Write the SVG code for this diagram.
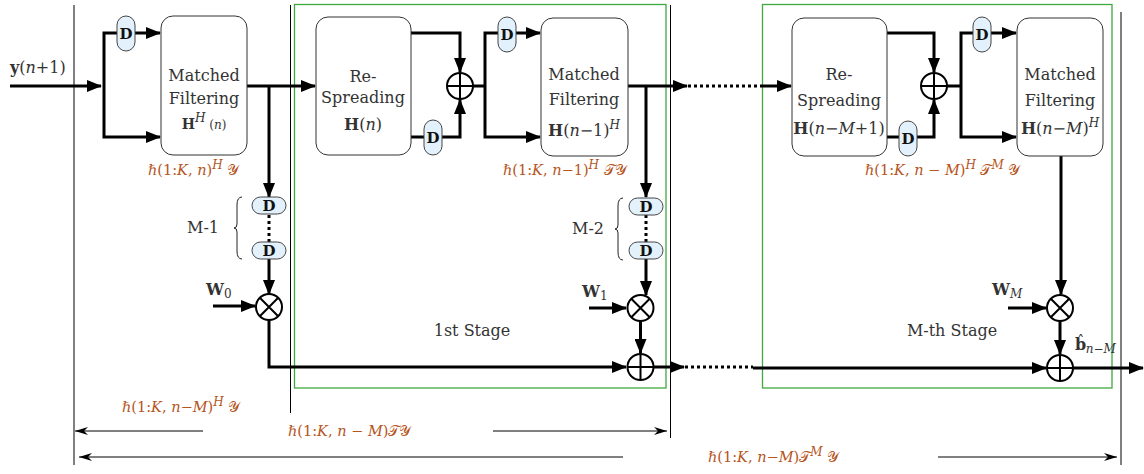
<svg xmlns="http://www.w3.org/2000/svg" width="1144" height="474" viewBox="0 0 1144 474">
<style>
.t{font-family:"DejaVu Serif","Liberation Serif",serif;font-size:16px;fill:#333;text-anchor:middle}
.lab{font-family:"DejaVu Serif","Liberation Serif","DejaVu Sans","Noto Sans",serif;font-size:14.5px;fill:#b5541b}
.it{font-style:italic}
.b{font-weight:bold}
.sup{font-size:12px}
.box{fill:#fff;stroke:#333;stroke-width:1}
.cap{fill:#e2f1fc;stroke:#444;stroke-width:1}
.dl{font-family:"DejaVu Serif","Liberation Serif",serif;font-size:15px;font-weight:bold;fill:#111;text-anchor:middle}
.w{fill:none;stroke:#000;stroke-width:3}
.dot{fill:none;stroke:#000;stroke-width:3;stroke-dasharray:3 3}
.thin{fill:none;stroke:#000;stroke-width:1}
.op{fill:#fff;stroke:#000;stroke-width:2}
.stage{fill:none;stroke:#3fa83f;stroke-width:1.3}
</style>
<defs>
<marker id="ah" markerUnits="userSpaceOnUse" markerWidth="15" markerHeight="12" refX="14" refY="6" orient="auto"><path d="M0,0 L15,6 L0,12 z" fill="#000"/></marker>
<marker id="ta" markerUnits="userSpaceOnUse" markerWidth="13" markerHeight="8" refX="13" refY="4" orient="auto"><path d="M0,0 L13,4 L0,8 L4,4 z" fill="#000"/></marker>
</defs>

<g id="frame">
<line class="thin" x1="74" y1="5" x2="74" y2="465"/>
<line class="thin" x1="290.5" y1="5" x2="290.5" y2="413"/>
<line class="thin" x1="670.5" y1="5" x2="670.5" y2="438"/>
<line class="thin" x1="1121" y1="12" x2="1121" y2="465"/>
<rect class="stage" x="294.5" y="4.5" width="371.5" height="383.5"/>
<rect class="stage" x="762.5" y="4.5" width="349.5" height="383.5"/>
</g>

<g id="connectors">
<path class="w" d="M10,86 H101" marker-end="url(#ah)"/>
<path class="w" d="M104,86 V33 H160" marker-end="url(#ah)"/>
<path class="w" d="M104,86 V137 H160" marker-end="url(#ah)"/>
<path class="w" d="M247,86 H315" marker-end="url(#ah)"/>
<path class="w" d="M269,86 V197" marker-end="url(#ah)"/>
<path class="dot" d="M269,215 V242"/>
<path class="w" d="M269,259 V294" marker-end="url(#ah)"/>
<path class="w" d="M213,306 H255" marker-end="url(#ah)"/>
<path class="w" d="M269,320 V367 H626" marker-end="url(#ah)"/>

<path class="w" d="M411,33 H460 V72" marker-end="url(#ah)"/>
<path class="w" d="M411,137 H460 V100" marker-end="url(#ah)"/>
<path class="w" d="M473,86 H485"/>
<path class="w" d="M485,86 V33 H540" marker-end="url(#ah)"/>
<path class="w" d="M485,86 V137 H540" marker-end="url(#ah)"/>
<path class="w" d="M628,86 H687" marker-end="url(#ah)"/>
<path class="dot" d="M688,86 H760"/>
<path class="w" d="M760,86 H791" marker-end="url(#ah)"/>
<path class="w" d="M646,86 V197" marker-end="url(#ah)"/>
<path class="dot" d="M646,215 V242"/>
<path class="w" d="M646,259 V295" marker-end="url(#ah)"/>
<path class="w" d="M589,308 H626" marker-end="url(#ah)"/>
<path class="w" d="M640.5,321 V353" marker-end="url(#ah)"/>
<path class="w" d="M654,367 H684" marker-end="url(#ah)"/>
<path class="dot" d="M685,367 H753"/>
<path class="w" d="M753,368 H1046" marker-end="url(#ah)"/>

<path class="w" d="M887,33 H934 V72" marker-end="url(#ah)"/>
<path class="w" d="M887,137 H934 V100" marker-end="url(#ah)"/>
<path class="w" d="M947,86 H961"/>
<path class="w" d="M961,86 V33 H1016" marker-end="url(#ah)"/>
<path class="w" d="M961,86 V137 H1016" marker-end="url(#ah)"/>
<path class="w" d="M1061,156 V294" marker-end="url(#ah)"/>
<path class="w" d="M1008,308 H1046" marker-end="url(#ah)"/>
<path class="w" d="M1060,321 V354" marker-end="url(#ah)"/>
<path class="w" d="M1073,368 H1143" marker-end="url(#ah)"/>

<path class="thin" d="M203,431 H75" marker-end="url(#ta)"/>
<path class="thin" d="M493,431 H667" marker-end="url(#ta)"/>
<path class="thin" d="M623,457 H79" marker-end="url(#ta)"/>
<path class="thin" d="M938,457 H1117" marker-end="url(#ta)"/>
</g>

<g id="input-label"><text class="t" x="10" y="73" style="text-anchor:start"><tspan class="b">y</tspan>(<tspan class="it">n</tspan>+1)</text></g>

<g id="mf1"><rect class="box" x="161" y="16" width="86" height="139" rx="12"/>
<text class="t" x="204" y="81">Matched</text><text class="t" x="204" y="104">Filtering</text>
<text class="t" x="204" y="129"><tspan class="b" font-size="14">H</tspan><tspan class="it sup" dy="-7">H</tspan><tspan dy="7" font-size="12"> (<tspan class="it">n</tspan>)</tspan></text></g>

<g id="rs1"><rect class="box" x="316" y="17" width="95" height="138" rx="12"/>
<text class="t" x="363" y="82">Re-</text><text class="t" x="363" y="103">Spreading</text>
<text class="t" x="363" y="130" font-size="13"><tspan class="b">H</tspan>(<tspan class="it">n</tspan>)</text></g>

<g id="mf2"><rect class="box" x="541" y="18" width="87" height="138" rx="12"/>
<text class="t" x="584" y="80">Matched</text><text class="t" x="584" y="105">Filtering</text>
<text class="t" x="584" y="136" font-size="13"><tspan class="b">H</tspan>(<tspan class="it">n</tspan>−1)<tspan class="it sup" dy="-7">H</tspan></text></g>

<g id="rsM"><rect class="box" x="792" y="18" width="95" height="138" rx="12"/>
<text class="t" x="839" y="80">Re-</text><text class="t" x="839" y="106">Spreading</text>
<text class="t" x="839" y="134" font-size="13"><tspan class="b">H</tspan>(<tspan class="it">n</tspan>−<tspan class="it">M</tspan>+1)</text></g>

<g id="mfM"><rect class="box" x="1017" y="18" width="86" height="138" rx="12"/>
<text class="t" x="1060" y="80">Matched</text><text class="t" x="1060" y="106">Filtering</text>
<text class="t" x="1060" y="134" font-size="13"><tspan class="b">H</tspan>(<tspan class="it">n</tspan>−<tspan class="it">M</tspan>)<tspan class="it sup" dy="-7">H</tspan></text></g>

<g id="d-in"><rect class="cap" x="117" y="16" width="18" height="35" rx="9"/><text class="dl" x="126" y="39">D</text></g>
<g id="d-rs1"><rect class="cap" x="424" y="120" width="18" height="35" rx="9"/><text class="dl" x="433" y="143">D</text></g>
<g id="d-mf2"><rect class="cap" x="498" y="17" width="18" height="35" rx="9"/><text class="dl" x="507" y="40">D</text></g>
<g id="d-rsM"><rect class="cap" x="899" y="121" width="18" height="35" rx="9"/><text class="dl" x="908" y="144">D</text></g>
<g id="d-mfM"><rect class="cap" x="973" y="17" width="18" height="35" rx="9"/><text class="dl" x="982" y="40">D</text></g>

<g id="chain0">
<rect class="cap" x="252" y="197" width="34" height="17" rx="8.5"/><text class="dl" x="269" y="211">D</text>
<rect class="cap" x="252" y="242" width="34" height="17" rx="8.5"/><text class="dl" x="269" y="256">D</text>
<path d="M242,197 Q237,197 237,205 V224 Q237,228 234,228 Q237,228 237,232 V251 Q237,259 242,259" fill="none" stroke="#222" stroke-width="1"/>
<text class="t" x="203" y="233" font-size="14">M-1</text></g>
<g id="chain1">
<rect class="cap" x="629" y="198" width="34" height="17" rx="8.5"/><text class="dl" x="646" y="212">D</text>
<rect class="cap" x="629" y="242" width="34" height="17" rx="8.5"/><text class="dl" x="646" y="256">D</text>
<path d="M623,198 Q618,198 618,206 V225 Q618,229 615,229 Q618,229 618,233 V252 Q618,260 623,260" fill="none" stroke="#222" stroke-width="1"/>
<text class="t" x="588" y="234" font-size="14">M-2</text></g>

<g id="add1"><circle class="op" cx="460" cy="86" r="13"/><path d="M447,86 H473 M460,73 V99" stroke="#000" stroke-width="2"/></g>
<g id="addM1"><circle class="op" cx="934" cy="86" r="13"/><path d="M921,86 H947 M934,73 V99" stroke="#000" stroke-width="2"/></g>
<g id="mul0"><circle class="op" cx="269" cy="307" r="13"/><path d="M259.8,297.8 L278.2,316.2 M278.2,297.8 L259.8,316.2" stroke="#000" stroke-width="2"/></g>
<g id="mul1"><circle class="op" cx="640.5" cy="308" r="13"/><path d="M631.3,298.8 L649.7,317.2 M649.7,298.8 L631.3,317.2" stroke="#000" stroke-width="2"/></g>
<g id="mulM"><circle class="op" cx="1060" cy="308" r="13"/><path d="M1050.8,298.8 L1069.2,317.2 M1069.2,298.8 L1050.8,317.2" stroke="#000" stroke-width="2"/></g>
<g id="sum1"><circle class="op" cx="640.5" cy="367" r="13"/><path d="M627.5,367 H653.5 M640.5,354 V380" stroke="#000" stroke-width="2"/></g>
<g id="sumM"><circle class="op" cx="1060" cy="368" r="13"/><path d="M1047,368 H1073 M1060,355 V381" stroke="#000" stroke-width="2"/></g>

<g id="weights">
<text class="t" x="206" y="295" style="text-anchor:start"><tspan class="b">W</tspan><tspan font-size="12" dy="3">0</tspan></text>
<text class="t" x="582" y="297" style="text-anchor:start"><tspan class="b">W</tspan><tspan font-size="12" dy="3">1</tspan></text>
<text class="t" x="992" y="295" style="text-anchor:start"><tspan class="b">W</tspan><tspan class="it" font-size="12" dy="3">M</tspan></text>
<text class="t" x="1075" y="350" style="text-anchor:start"><tspan class="b">b</tspan><tspan font-size="14" dx="-9" dy="-4">ˆ</tspan><tspan class="it" font-size="12" dx="1.5" dy="7">n</tspan><tspan font-size="12">−</tspan><tspan class="it" font-size="12">M</tspan></text>
</g>

<g id="stage-labels">
<text class="t" x="472" y="336" font-size="15">1st Stage</text>
<text class="t" x="952" y="336" font-size="15">M-th Stage</text>
</g>

<g id="signal-labels">
<text class="lab" x="148" y="175">ℏ(1:<tspan class="it">K</tspan>, <tspan class="it">n</tspan>)<tspan class="it sup" dy="-6">H</tspan><tspan dy="6"> 𝒴</tspan></text>
<text class="lab" x="503" y="175">ℏ(1:<tspan class="it">K</tspan>, <tspan class="it">n</tspan>−1)<tspan class="it sup" dy="-6">H</tspan><tspan dy="6"> 𝒯𝒴</tspan></text>
<text class="lab" x="865" y="175">ℏ(1:<tspan class="it">K</tspan>, <tspan class="it">n</tspan> − <tspan class="it">M</tspan>)<tspan class="it sup" dy="-6">H</tspan><tspan dy="6"> 𝒯</tspan><tspan class="it sup" dy="-6">M</tspan><tspan dy="6"> 𝒴</tspan></text>
<text class="lab" x="122" y="412">ℏ(1:<tspan class="it">K</tspan>, <tspan class="it">n</tspan>−<tspan class="it">M</tspan>)<tspan class="it sup" dy="-6">H</tspan><tspan dy="6"> 𝒴</tspan></text>
<text class="lab" x="288" y="436">ℏ(1:<tspan class="it">K</tspan>, <tspan class="it">n</tspan> − <tspan class="it">M</tspan>)𝒯𝒴</text>
<text class="lab" x="708" y="462">ℏ(1:<tspan class="it">K</tspan>, <tspan class="it">n</tspan>−<tspan class="it">M</tspan>)𝒯<tspan class="it sup" dy="-6">M</tspan><tspan dy="6"> 𝒴</tspan></text>
</g>
</svg>
